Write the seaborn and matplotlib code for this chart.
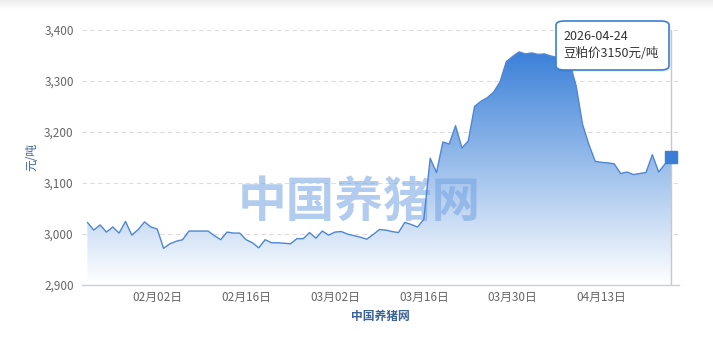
import numpy as np
import pandas as pd
import matplotlib
matplotlib.use("Agg")
import matplotlib.pyplot as plt
import matplotlib.dates as mdates
from matplotlib.colors import LinearSegmentedColormap
from matplotlib.patches import PathPatch, FancyBboxPatch
import seaborn as sns

# ---- data: daily soybean meal price (元/吨) ----
start_date = "2026-01-22"
end_date = "2026-04-24"
prices = [
    # Jan 22 - Jan 31
    3022, 3007, 3017, 3003, 3013, 3001, 3024, 2997, 3008, 3023,
    # Feb 1 - Feb 28
    3013, 3009, 2971, 2980, 2985, 2988, 3005, 3005, 3005, 3005,
    2996, 2988, 3003, 3001, 3001, 2988, 2982, 2972, 2988, 2982,
    2982, 2981, 2980, 2990, 2990, 3002, 2991, 3005,
    # Mar 1 - Mar 31
    2997, 3003, 3004, 2999, 2996, 2993, 2989, 2998, 3008, 3007,
    3004, 3002, 3022, 3018, 3013, 3028, 3148, 3120, 3180, 3176,
    3212, 3168, 3182, 3250, 3260, 3267, 3278, 3298, 3338, 3348,
    3357,
    # Apr 1 - Apr 24
    3353, 3355, 3352, 3353, 3349, 3346, 3345, 3335, 3290, 3215,
    3175, 3142, 3140, 3139, 3137, 3118, 3121, 3116, 3118, 3120,
    3155, 3121, 3137, 3150,
]
tick_dates = ["2026-02-02", "2026-02-16", "2026-03-02",
              "2026-03-16", "2026-03-30", "2026-04-13"]
y_ticks = [2900, 3000, 3100, 3200, 3300, 3400]
tooltip_date = "2026-04-24"
tooltip_value = 3150
series_name = "豆粕价"
unit = "元/吨"
site_name = "中国养猪网"

dates = pd.date_range(start_date, end_date, freq="D")
df = pd.DataFrame({"date": dates, "price": prices})

# ---- style ----
sns.set_theme(style="white")
plt.rcParams["font.family"] = ["Noto Sans CJK SC", "DejaVu Sans"]
plt.rcParams["axes.unicode_minus"] = False

W, H = 713, 338
fig = plt.figure(figsize=(W / 100, H / 100), dpi=100)
fig.patch.set_facecolor("white")

def fx(px):
    return px / W

def fy(py):
    return 1 - py / H

# faint shade along the top edge
band = fig.add_axes([0, fy(10), 1, 10 / H])
band.imshow(np.linspace(0.93, 1.0, 20).reshape(-1, 1), cmap="gray",
            vmin=0, vmax=1, aspect="auto", extent=[0, 1, 0, 1])
band.axis("off")

ax = fig.add_axes([fx(82), fy(284.5), fx(679) - fx(82), fy(30) - fy(284.5)])
ax.set_facecolor("white")

line_color = "#4f86d4"
sns.lineplot(data=df, x="date", y="price", ax=ax, color=line_color,
             linewidth=1.0, zorder=4)

# gradient area under the line
xnum = mdates.date2num(df["date"])
yvals = df["price"].to_numpy()
ymin = y_ticks[0]
poly = ax.fill_between(xnum, yvals, ymin, color="none", linewidth=0)
path = poly.get_paths()[0]
clip = PathPatch(path, transform=ax.transData, facecolor="none", edgecolor="none")
ax.add_patch(clip)
cmap = LinearSegmentedColormap.from_list("area", ["#ffffff", "#3a80d8"])
grad = np.linspace(0, 1, 256).reshape(-1, 1)
im = ax.imshow(grad, cmap=cmap, vmin=0, vmax=1, aspect="auto", origin="lower",
               extent=[xnum[0], xnum[-1], ymin, yvals.max()], zorder=2)
im.set_clip_path(clip)

# axis limits
x_left = xnum[0] - 0.85
x_right = xnum[-1] + 1.2
ax.set_xlim(x_left, x_right)
ax.set_ylim(y_ticks[0], y_ticks[-1])

# grid
for v in y_ticks[1:]:
    ax.axhline(v, color="#dcdcdc", linewidth=0.8, linestyle=(0, (4, 3)), zorder=1)

# spines
for s in ["top", "right", "left"]:
    ax.spines[s].set_visible(False)
ax.spines["bottom"].set_color("#c3cfe2")
ax.spines["bottom"].set_linewidth(1.0)
ax.spines["bottom"].set_zorder(5)

# ticks
ax.set_yticks(y_ticks)
ax.set_yticklabels([f"{v:,}" for v in y_ticks])
ax.tick_params(axis="y", length=0, pad=6, labelsize=8.5, labelcolor="#666666")
xt = mdates.date2num(pd.to_datetime(tick_dates))
ax.set_xticks(xt)
ax.set_xticklabels([pd.Timestamp(d).strftime("%m月%d日") for d in tick_dates])
ax.tick_params(axis="x", direction="out", length=7.2, width=0.8, color="#c3cfe2",
               pad=-2.6, labelsize=8.5, labelcolor="#666666")

ax.set_xlabel(site_name, fontsize=8.5, fontweight="bold", color="#3d6199", labelpad=4)
ax.set_ylabel(unit, fontsize=8.5, color="#3d6199", labelpad=4)

# watermark
ax.text(0.465, 0.325, site_name, transform=ax.transAxes, fontsize=35,
        fontweight="bold", color="#74a2e2", alpha=0.55, ha="center", va="center",
        zorder=3)

# crosshair at the highlighted day
hl = mdates.date2num(pd.Timestamp(tooltip_date))
ax.axvline(hl, color="#c8c8c8", linewidth=1.0, zorder=3)

# highlighted point
ax.plot([hl], [tooltip_value], marker="s", markersize=8, color="#3a7fd5",
        linestyle="none", zorder=6, clip_on=False)

# tooltip
shadow = FancyBboxPatch((fx(558), fy(72)), fx(669) - fx(556), fy(21) - fy(70),
                        boxstyle="round,pad=0,rounding_size=0.012",
                        transform=fig.transFigure, facecolor="#000000",
                        alpha=0.06, edgecolor="none", zorder=9)
fig.patches.append(shadow)
box = FancyBboxPatch((fx(556), fy(70)), fx(669) - fx(556), fy(21) - fy(70),
                     boxstyle="round,pad=0,rounding_size=0.012",
                     transform=fig.transFigure, facecolor="white",
                     edgecolor="#3a7fd5", linewidth=1.2, zorder=10)
fig.patches.append(box)
fig.text(fx(563), fy(36.5), tooltip_date, fontsize=9, color="#333333",
         va="center", ha="left", zorder=11)
fig.text(fx(563), fy(53), f"{series_name}{tooltip_value}{unit}", fontsize=9,
         color="#333333", va="center", ha="left", zorder=11)

fig.savefig("out.png", dpi=100, facecolor="white")
